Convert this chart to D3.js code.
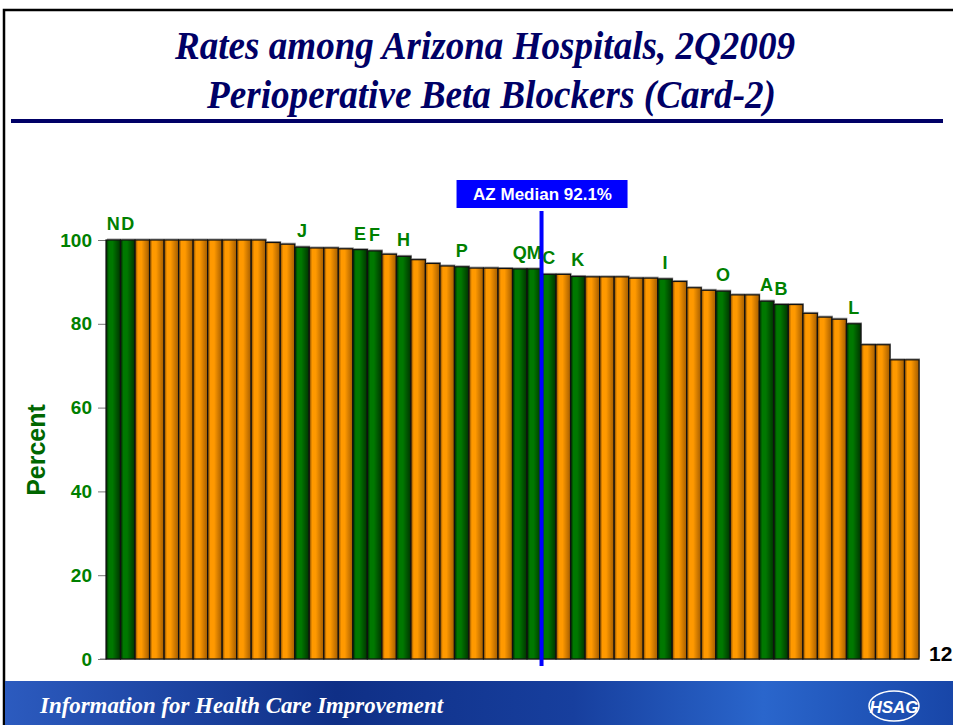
<!DOCTYPE html>
<html>
<head>
<meta charset="utf-8">
<script src="https://cdn.jsdelivr.net/npm/d3@7"></script>
<style>
  body { margin: 0; background: #fff; }
  svg { display: block; }
</style>
</head>
<body>
<script>
// hospital rates, sorted high to low; lettered hospitals are drawn green
var hospitals = d3.range(1, 57);
var rates = [100, 100, 100, 100, 100, 100, 100, 100, 100, 100, 100, 99.4, 99.0, 98.3, 98.1, 98.1,
    97.9, 97.7, 97.4, 96.6, 96.1, 95.3, 94.4, 93.8, 93.6, 93.3, 93.3, 93.2, 93.1, 93.1,
    91.8, 91.8, 91.3, 91.2, 91.2, 91.2, 90.9, 90.9, 90.7, 90.1, 88.6, 88.0, 87.8, 86.9, 86.9,
    85.4, 84.6, 84.6, 82.5, 81.6, 81.1, 80.0, 75.0, 75.0, 71.4, 71.4];
var letters = ["N", "D", "", "", "", "", "", "", "", "", "", "", "", "J", "", "", "", "E", "F", "", "H",
    "", "", "", "P", "", "", "", "Q", "M", "C", "", "K", "", "", "", "", "", "I", "", "", "", "O",
    "", "", "A", "B", "", "", "", "", "L", "", "", "", ""];
var yTicks = [0, 20, 40, 60, 80, 100];
var medianRate = 92.1;

var data = hospitals.map(function(h, i) {
    return {id: h, rate: rates[i], label: letters[i]};
});

var svg = d3.select("body").append("svg")
    .attr("width", 953)
    .attr("height", 725);

var defs = svg.append("defs");

function barGradient(id, dark, light, mid) {
    var g = defs.append("linearGradient").attr("id", id)
        .attr("x1", "0%").attr("x2", "100%").attr("y1", "0%").attr("y2", "0%");
    g.append("stop").attr("offset", "0%").attr("stop-color", dark);
    g.append("stop").attr("offset", "20%").attr("stop-color", light);
    g.append("stop").attr("offset", "45%").attr("stop-color", light);
    g.append("stop").attr("offset", "100%").attr("stop-color", mid);
}
barGradient("orangeGrad", "#7a4400", "#ff9900", "#a35c00");
barGradient("greenGrad", "#002200", "#007800", "#003300");

var banner = defs.append("linearGradient").attr("id", "bannerGrad")
    .attr("x1", "0%").attr("x2", "100%");
banner.append("stop").attr("offset", "0%").attr("stop-color", "#2c5bbf");
banner.append("stop").attr("offset", "35%").attr("stop-color", "#0f2f86");
banner.append("stop").attr("offset", "60%").attr("stop-color", "#173f9e");
banner.append("stop").attr("offset", "80%").attr("stop-color", "#2a66cc");
banner.append("stop").attr("offset", "100%").attr("stop-color", "#1846a8");

// slide frame
svg.append("path")
    .attr("d", "M4,725 L4,10 L953,10")
    .attr("fill", "none")
    .attr("stroke", "#000")
    .attr("stroke-width", 2.5);

// title
var title = svg.append("g")
    .style("font-family", "'Liberation Serif', 'Times New Roman', serif")
    .style("font-weight", "bold")
    .style("font-style", "italic")
    .style("font-size", "41px")
    .attr("fill", "#000066");
title.append("text")
    .attr("x", 175).attr("y", 59)
    .attr("textLength", 620).attr("lengthAdjust", "spacingAndGlyphs")
    .text("Rates among Arizona Hospitals, 2Q2009");
title.append("text")
    .attr("x", 207).attr("y", 108)
    .attr("textLength", 569).attr("lengthAdjust", "spacingAndGlyphs")
    .text("Perioperative Beta Blockers (Card-2)");
svg.append("rect")
    .attr("x", 11).attr("y", 119)
    .attr("width", 932).attr("height", 4)
    .attr("fill", "#000066");

// chart
var x = d3.scaleBand()
    .domain(hospitals)
    .range([106, 919])
    .padding(0);

var y = d3.scaleLinear()
    .domain([0, 100])
    .range([659, 240]);

var yAxis = svg.append("g")
    .attr("class", "y axis")
    .attr("transform", "translate(106,0)")
    .call(d3.axisLeft(y).tickValues(yTicks).tickSize(8).tickPadding(6));
yAxis.select(".domain").attr("stroke", "#777");
yAxis.selectAll(".tick line").attr("stroke", "#777");
yAxis.selectAll(".tick text")
    .attr("fill", "#008000")
    .style("font-family", "'Liberation Sans', Arial, sans-serif")
    .style("font-weight", "bold")
    .style("font-size", "19px");

svg.append("line")
    .attr("x1", 100).attr("x2", 919)
    .attr("y1", y(0)).attr("y2", y(0))
    .attr("stroke", "#777");

svg.append("text")
    .attr("transform", "translate(45,450) rotate(-90)")
    .attr("text-anchor", "middle")
    .attr("fill", "#006600")
    .style("font-family", "'Liberation Sans', Arial, sans-serif")
    .style("font-weight", "bold")
    .style("font-size", "25px")
    .text("Percent");

// bar shadows
svg.selectAll(".shadow")
    .data(data)
    .enter()
    .append("rect")
    .attr("class", "shadow")
    .attr("x", function(d) { return x(d.id) + 1; })
    .attr("y", function(d) { return y(d.rate) - 1.5; })
    .attr("width", x.bandwidth())
    .attr("height", function(d) { return y(0) - y(d.rate); })
    .attr("fill", "#999");

svg.selectAll(".bar")
    .data(data)
    .enter()
    .append("rect")
    .attr("class", "bar")
    .attr("x", function(d) { return x(d.id); })
    .attr("y", function(d) { return y(d.rate); })
    .attr("width", x.bandwidth())
    .attr("height", function(d) { return y(0) - y(d.rate); })
    .attr("fill", function(d) { return d.label ? "url(#greenGrad)" : "url(#orangeGrad)"; })
    .attr("stroke", "#111")
    .attr("stroke-width", 1.2);

svg.selectAll(".letter")
    .data(data.filter(function(d) { return d.label; }))
    .enter()
    .append("text")
    .attr("class", "letter")
    .attr("x", function(d) { return x(d.id) + x.bandwidth() / 2; })
    .attr("y", function(d) { return y(d.rate) - 10; })
    .attr("text-anchor", "middle")
    .attr("fill", "#008000")
    .style("font-family", "'Liberation Sans', Arial, sans-serif")
    .style("font-weight", "bold")
    .style("font-size", "18px")
    .text(function(d) { return d.label; });

// AZ median marker
var firstBelow = data.find(function(d) { return d.rate < medianRate; });
var mx = x(firstBelow.id);
svg.append("line")
    .attr("x1", mx).attr("x2", mx)
    .attr("y1", 211).attr("y2", 666)
    .attr("stroke", "#0000ff")
    .attr("stroke-width", 4);
svg.append("rect")
    .attr("x", mx - 85).attr("y", 180)
    .attr("width", 171).attr("height", 28)
    .attr("fill", "#0000ff");
svg.append("text")
    .attr("x", mx + 1).attr("y", 200)
    .attr("text-anchor", "middle")
    .attr("fill", "#fff")
    .style("font-family", "'Liberation Sans', Arial, sans-serif")
    .style("font-weight", "bold")
    .style("font-size", "17px")
    .text("AZ Median " + medianRate + "%");

// slide number
svg.append("text")
    .attr("x", 929).attr("y", 661)
    .attr("fill", "#000")
    .style("font-family", "'Liberation Sans', Arial, sans-serif")
    .style("font-weight", "bold")
    .style("font-size", "21px")
    .text("12");

// footer banner
svg.append("rect")
    .attr("x", 5).attr("y", 681)
    .attr("width", 948).attr("height", 44)
    .attr("fill", "url(#bannerGrad)");
svg.append("text")
    .attr("x", 40).attr("y", 713)
    .attr("textLength", 403).attr("lengthAdjust", "spacingAndGlyphs")
    .attr("fill", "#fff")
    .style("font-family", "'Liberation Serif', 'Times New Roman', serif")
    .style("font-style", "italic")
    .style("font-weight", "bold")
    .style("font-size", "23px")
    .text("Information for Health Care Improvement");
svg.append("ellipse")
    .attr("cx", 894).attr("cy", 706)
    .attr("rx", 25).attr("ry", 15)
    .attr("fill", "none")
    .attr("stroke", "#fff")
    .attr("stroke-width", 1.5);
svg.append("text")
    .attr("x", 894).attr("y", 713)
    .attr("text-anchor", "middle")
    .attr("fill", "#fff")
    .style("font-family", "'Liberation Sans', Arial, sans-serif")
    .style("font-style", "italic")
    .style("font-weight", "bold")
    .style("font-size", "17px")
    .text("HSAG");
</script>
</body>
</html>
